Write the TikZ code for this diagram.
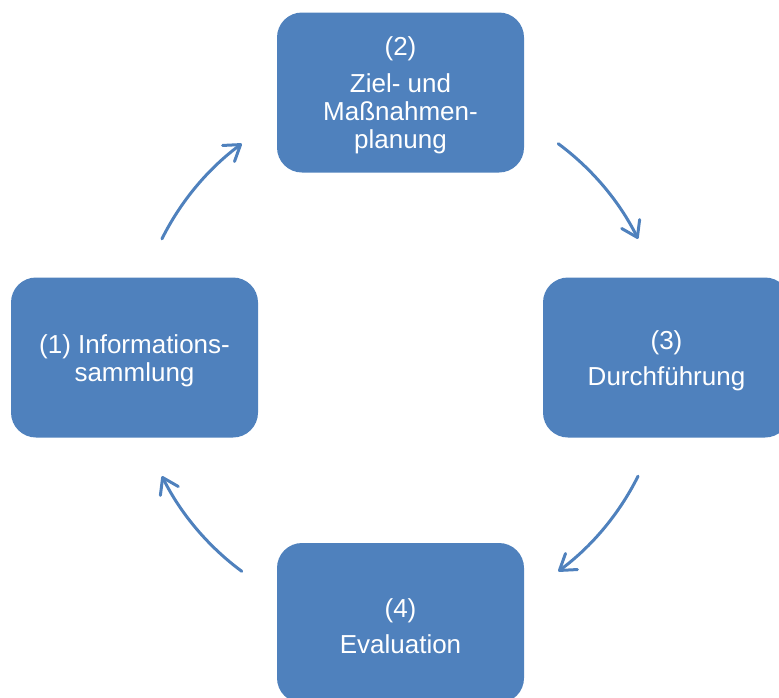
\documentclass[tikz,border=0pt]{standalone}
\usepackage{fontspec}
\setmainfont{Liberation Sans}
\usetikzlibrary{arrows.meta}
\definecolor{boxblue}{HTML}{4F81BD}
\begin{document}
\begin{tikzpicture}[x=1pt,y=-1pt,
  stepbox/.style={draw=none, fill=boxblue, rounded corners=25pt,
    minimum width=247pt, minimum height=160pt, inner sep=0pt},
  steptext/.style={inner sep=0pt, text=white, align=center,
    font=\fontsize{26}{28.2}\selectfont},
  cyc/.style={draw=boxblue, line width=3pt, line cap=round,
    -{Straight Barb[length=15pt,width=20pt,line cap=round,line join=round]}}]
\clip (0,0) rectangle (779,697);
\node[stepbox] (n1) at (134.5,357.5) {};
\node[stepbox] (n2) at (400.5,92.5) {};
\node[stepbox] (n3) at (666.5,357.5) {};
\node[stepbox] (n4) at (400.5,623) {};
\node[steptext] (t1) at ([yshift=-3pt]n1.center) {(1) Informations-\\sammlung};
\node[steptext] (t2) at ([yshift=-3pt]n2.center) {(2)\\[8pt]Ziel- und\\Maßnahmen-\\planung};
\node[steptext] (t3) at ([yshift=-3pt]n3.center) {(3)\\[8pt]Durchführung};
\node[steptext] (t4) at ([yshift=-3pt]n4.center) {(4)\\[8pt]Evaluation};
\coordinate (c) at (400,357.5);
\draw[cyc] ([shift={(206.5:266)}]c) arc[start angle=206.5, end angle=233.5, radius=266];
\draw[cyc] ([shift={(306.5:266)}]c) arc[start angle=306.5, end angle=333.5, radius=266];
\draw[cyc] ([shift={(26.5:266)}]c) arc[start angle=26.5, end angle=53.5, radius=266];
\draw[cyc] ([shift={(126.5:266)}]c) arc[start angle=126.5, end angle=153.5, radius=266];
\end{tikzpicture}
\end{document}
